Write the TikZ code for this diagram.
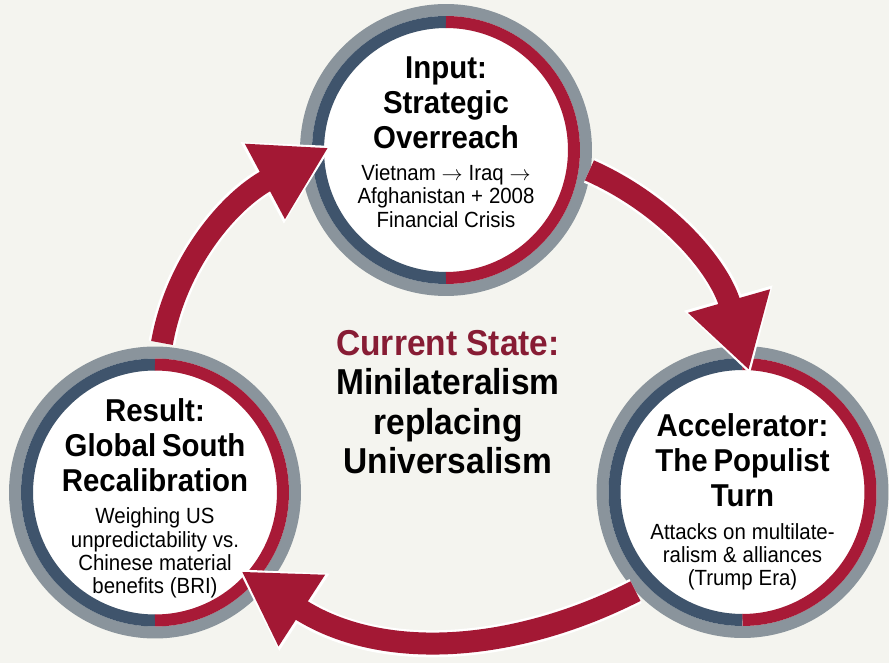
\documentclass[tikz,border=0pt]{standalone}
\usepackage{fontspec}
\setmainfont{Liberation Sans}[FakeStretch=0.93]
\usetikzlibrary{positioning, arrows.meta, calc}
\definecolor{paper}{RGB}{244,244,239}
\definecolor{ringgray}{RGB}{138,148,156}
\definecolor{ringblue}{RGB}{63,84,108}
\definecolor{ringred}{RGB}{168,26,55}
\definecolor{arrowred}{RGB}{163,24,52}
\definecolor{statered}{RGB}{135,28,52}
\newcommand{\headfont}{\bfseries\fontsize{18}{20}\selectfont}
\newcommand{\notefont}{\fontsize{12.5}{13.3}\selectfont}

\begin{document}
\begin{tikzpicture}[x=0.02cm, y=0.02cm,
    stage/.style={circle, fill=white, minimum size=4.88cm, inner sep=0pt, outer sep=0pt},
    stagetext/.style={text width=4.9cm, align=center, inner sep=0pt},
    flow/.style={arrowred, line width=0.44cm, -{Triangle[length=1.44cm, width=1.6cm]}},
    halo/.style={white, line width=0.54cm, -{Triangle[length=1.6cm, width=1.72cm]}}]
	\useasboundingbox (0,0) rectangle (889,663);
	\fill[paper] (0,0) rectangle (889,663);

	\node[stage] (input) at (446,513) {};
	\node[stage] (accel) at (742.5,171) {};
	\node[stage] (result) at (155,170.5) {};

	% rings: gray outside, blue/red halves inside
	\foreach \n in {input, accel, result} {
		\draw[ringgray, line width=0.24cm] (\n.center) circle[radius=2.8cm];
		\draw[ringblue, line width=0.24cm] ($(\n.center)+(0,2.56cm)$) arc[start angle=90, end angle=270, radius=2.56cm];
		\draw[ringred, line width=0.24cm] ($(\n.center)+(0,-2.56cm)$) arc[start angle=-90, end angle=90, radius=2.56cm];
	}

	\node[stagetext] (inputtxt) at ($(input)+(0,8)$) {{\headfont Input:\\Strategic\\Overreach\par}\vspace{5pt}{\notefont Vietnam $\rightarrow$ Iraq $\rightarrow$\\Afghanistan + 2008\\Financial Crisis\par}};
	\node[stagetext] (acceltxt) at ($(accel)+(0,-10)$) {{\headfont Accelerator:\\The Populist\\Turn\par}\vspace{5pt}{\notefont Attacks on multilate-\\ralism \& alliances\\(Trump Era)\par}};
	\node[stagetext] (resulttxt) at ($(result)+(0,-6)$) {{\headfont Result:\\Global South\\Recalibration\par}\vspace{5pt}{\notefont Weighing US\\unpredictability vs.\\Chinese material\\benefits (BRI)\par}};

	% cycle arrows
	\draw[halo, shorten <=0.48cm, shorten >=-0.1cm] (input.-5) to[out=-24, in=106] (accel.87);
	\draw[flow, shorten <=0.48cm] (input.-5) to[out=-24, in=106] (accel.87);
	\draw[halo, shorten <=0.5cm, shorten >=-0.2cm] (accel.-134) to[out=207, in=-33] (result.-42);
	\draw[flow, shorten <=0.5cm, shorten >=-0.1cm] (accel.-134) to[out=207, in=-33] (result.-42);
	\draw[halo, shorten <=0.56cm, shorten >=-0.2cm] (result.89) to[out=80, in=208] (input.180);
	\draw[flow, shorten <=0.56cm, shorten >=-0.1cm] (result.89) to[out=80, in=208] (input.180);

	\node[align=center, font=\bfseries\fontsize{20.5}{22.5}\selectfont] (state) at (448,261) {\textcolor{statered}{Current State:}\\Minilateralism\\replacing\\Universalism};
\end{tikzpicture}
\end{document}
